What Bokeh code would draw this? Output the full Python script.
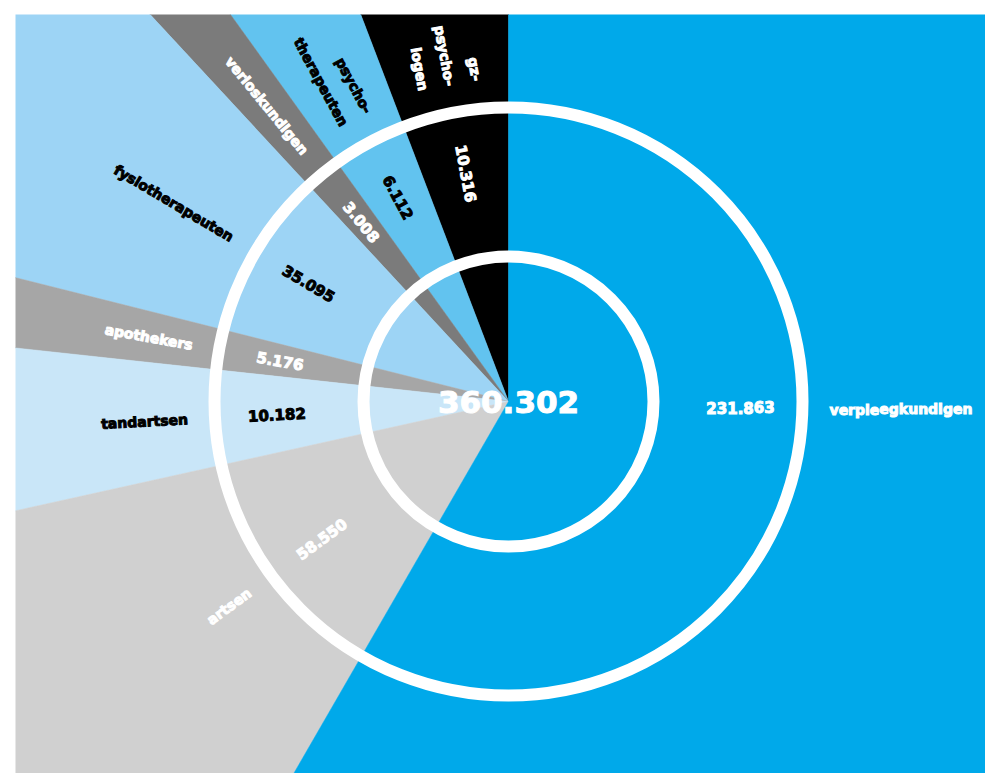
import numpy as np
from bokeh.plotting import figure
from bokeh.models import Range1d, ColumnDataSource
from bokeh.core.properties import value
from bokeh.embed import file_html
from bokeh.resources import INLINE

# ---- data ----
occupations = ["gz-\npsycho-\nlogen", "psycho-\ntherapeuten", "verloskundigen",
               "fysiotherapeuten", "apothekers", "tandartsen", "artsen",
               "verpleegkundigen"]
counts = [10316, 6112, 3008, 35095, 5176, 10182, 58550, 231863]
# share of the circle each slice takes in the design (degrees)
slice_deg = [20.9, 14.8, 7.1, 33.1, 7.9, 18.7, 47.5, 210.0]
slice_colors = ["#000000", "#62C3EF", "#7B7B7B", "#9DD4F5", "#A6A6A6",
                "#C9E6F8", "#D0D0D0", "#00A9EA"]
label_colors = ["white", "black", "white", "black", "white", "black", "white", "white"]

def fmt(v):
    return f"{v:,}".replace(",", ".")

total = sum(counts)

# ---- geometry from data ----
sl = np.array(slice_deg, dtype=float)
cum_before = np.concatenate([[0.0], np.cumsum(sl)[:-1]])
start = 90.0 + cum_before
end = start + sl
bis = start + sl / 2.0
# the dominant slice is labelled on the horizontal
label_phi = np.where(sl > 180, 360.0, bis)
phi_r = np.radians(label_phi)
left = np.cos(phi_r) < 0
text_angle = np.where(left, label_phi - 180.0, label_phi)
text_angle = np.radians(text_angle)

R_INNER, R_OUTER = 145, 294
R_VALUE, R_NAME = 232, 321

p = figure(width=985, height=773, x_range=Range1d(-493, 477), y_range=Range1d(-372, 387),
           output_backend="svg", toolbar_location=None,
           x_axis_location=None, y_axis_location=None,
           min_border_left=15, min_border_right=0, min_border_top=14, min_border_bottom=0,
           background_fill_color="white", border_fill_color="white")
p.outline_line_color = None
p.grid.visible = False

wsrc = ColumnDataSource(dict(start=np.radians(start), end=np.radians(end), color=slice_colors))
p.wedge(x=0, y=0, radius=760, start_angle="start", end_angle="end",
        direction="anticlock", fill_color="color", line_color="color",
        line_width=0.5, source=wsrc)

p.circle(x=[0, 0], y=[0, 0], radius=[R_INNER, R_OUTER], fill_color=None,
         line_color="white", line_width=12)

font = value("DejaVu Sans")

def add_labels(mask, align, baseline):
    idx = np.where(mask)[0]
    if len(idx) == 0:
        return
    ns = ColumnDataSource(dict(
        x=R_NAME * np.cos(phi_r[idx]), y=R_NAME * np.sin(phi_r[idx]),
        t=[occupations[i] for i in idx], a=text_angle[idx],
        c=[label_colors[i] for i in idx]))
    p.text(x="x", y="y", text="t", angle="a", text_color="c", source=ns,
           text_font=font, text_font_style="bold", text_font_size="14px",
           text_align=align, text_baseline=baseline, text_line_height=1.7,
           text_outline_color="c")
    vs = ColumnDataSource(dict(
        x=R_VALUE * np.cos(phi_r[idx]), y=R_VALUE * np.sin(phi_r[idx]),
        t=[fmt(counts[i]) for i in idx], a=text_angle[idx],
        c=[label_colors[i] for i in idx]))
    p.text(x="x", y="y", text="t", angle="a", text_color="c", source=vs,
           text_font=font, text_font_style="bold", text_font_size="15px",
           text_align="center", text_baseline=baseline, text_outline_color="c")

main = sl > 180
add_labels(left & ~main, "right", "middle")
add_labels(~left & ~main, "left", "middle")
add_labels(main, "left", "top")

p.text(x=[0], y=[0], text=[fmt(total)], text_color="white", text_font=font,
       text_font_style="bold", text_font_size="31px", text_align="center",
       text_baseline="middle", text_outline_color="white")

open("out.html", "w").write(file_html(p, INLINE))
